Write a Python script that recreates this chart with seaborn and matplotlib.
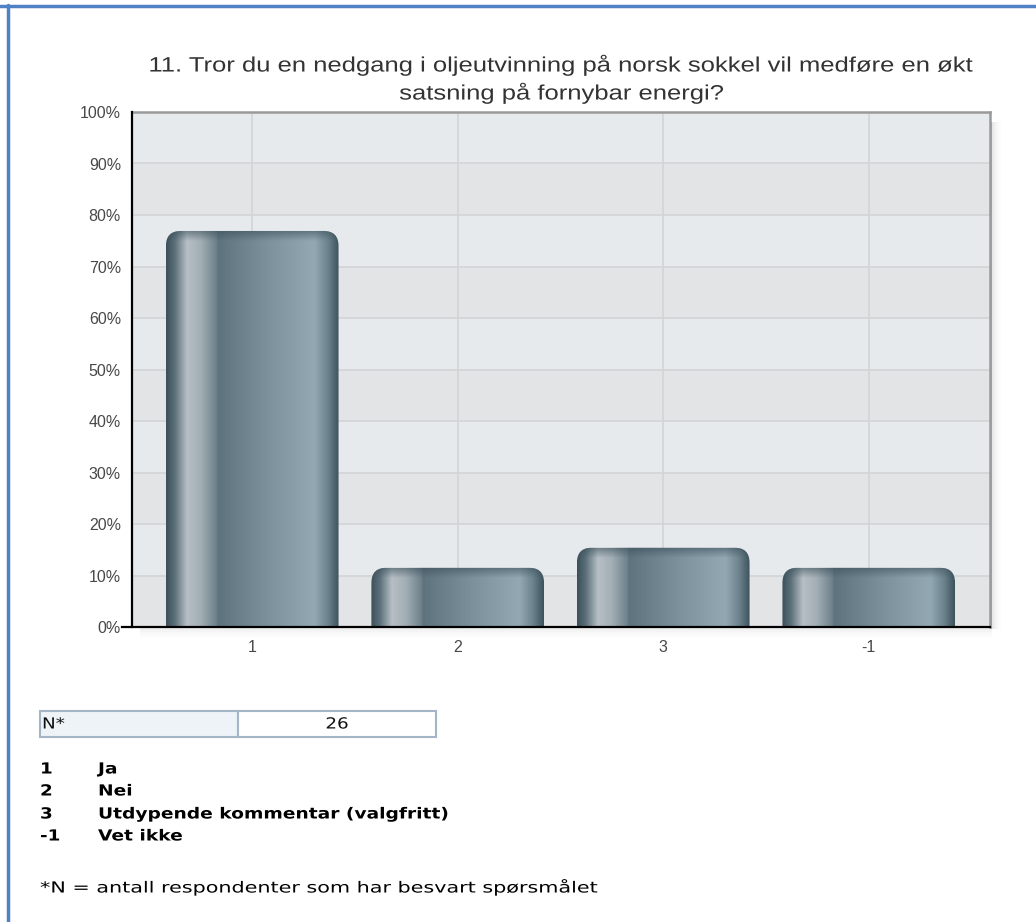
import numpy as np
import pandas as pd
import matplotlib
matplotlib.use("Agg")
import matplotlib.pyplot as plt
import seaborn as sns
from matplotlib.patches import FancyBboxPatch, Rectangle
from matplotlib.lines import Line2D
from matplotlib.colors import LinearSegmentedColormap
from matplotlib.patheffects import AbstractPathEffect
from matplotlib.transforms import Affine2D

# ---- data ----
categories = ["1", "2", "3", "-1"]
percentages = [76.9, 11.5, 15.4, 11.5]
yticks = [0, 10, 20, 30, 40, 50, 60, 70, 80, 90, 100]
ytick_labels = [f"{v}%" for v in yticks]
title_line1 = "11. Tror du en nedgang i oljeutvinning på norsk sokkel vil medføre en økt"
title_line2 = "satsning på fornybar energi?"
n_label = "N*"
n_value = "26"
legend_codes = ["1", "2", "3", "-1"]
legend_texts = ["Ja", "Nei", "Utdypende kommentar (valgfritt)", "Vet ikke"]
footnote = "*N = antall respondenter som har besvart spørsmålet"

W, H = 1036, 922
sns.set_theme(style="white")
plt.rcParams["font.family"] = ["Liberation Sans", "DejaVu Sans"]

fig = plt.figure(figsize=(W / 100, H / 100), dpi=100)
fig.patch.set_facecolor("white")


def fx(px):
    return px / W


def fy(py):
    return 1 - py / H


class XStretch(AbstractPathEffect):
    """Widen text horizontally about an anchor x (display pixels)."""
    def __init__(self, sx, x0):
        super().__init__()
        self.sx = sx
        self.x0 = x0

    def draw_path(self, renderer, gc, tpath, affine, rgbFace=None):
        t = affine + Affine2D().translate(-self.x0, 0).scale(self.sx, 1).translate(self.x0, 0)
        renderer.draw_path(gc, tpath, t, rgbFace)


ax_l, ax_r, ax_t, ax_b = 132, 990, 112, 627
ax = fig.add_axes([fx(ax_l), fy(ax_b), fx(ax_r - ax_l), (ax_b - ax_t) / H])

df = pd.DataFrame({"cat": categories, "pct": percentages})
sns.barplot(data=df, x="cat", y="pct", order=categories, color="#6f8794",
            width=0.84, ax=ax, zorder=3)
bar_patches = list(ax.containers[0])

xlim = (-0.585, 3.59)
ax.set_xlim(*xlim)
ax.set_ylim(0, 100)

# alternating background bands
ax.set_facecolor("#e6e9ec")
for i in range(10):
    col = "#e3e4e6" if (i % 2 == 0) else "#e7eaed"
    ax.axhspan(i * 10, (i + 1) * 10, color=col, zorder=0, lw=0)
for y in yticks[1:-1]:
    ax.axhline(y, color="#d2d4d6", lw=1.2, zorder=1)
for i in range(len(categories)):
    ax.axvline(i, color="#d2d4d6", lw=1.2, zorder=1)

# gradient bars with rounded tops
stops = [(0.0, "#3b505a"), (0.05, "#5c707a"), (0.12, "#b6bfc5"), (0.2, "#a3aeb5"),
         (0.29, "#6e828c"), (0.30, "#5e737e"), (0.6, "#7d929d"), (0.86, "#93a8b3"),
         (0.94, "#6b828d"), (1.0, "#3d535d")]
cmap = LinearSegmentedColormap.from_list("bar", stops)
grad = np.linspace(0, 1, 256).reshape(1, -1)
top_cmap = LinearSegmentedColormap.from_list(
    "top", [(0, (0.23, 0.31, 0.35, 0.0)), (1, (0.23, 0.31, 0.35, 0.55))])
vgrad = np.linspace(0, 1, 64).reshape(-1, 1)

ax_w_px = ax_r - ax_l
ax_h_px = ax_b - ax_t
px_per_x = ax_w_px / (xlim[1] - xlim[0])
px_per_y = ax_h_px / 100.0
r_px = 15
r_x = r_px / px_per_x
aspect = (r_px / px_per_y) / r_x

for p in bar_patches:
    x0, w, h = p.get_x(), p.get_width(), p.get_height()
    if h <= 0:
        continue
    p.set_visible(False)
    clip = FancyBboxPatch((x0, -8), w, h + 8,
                          boxstyle=f"round,pad=0,rounding_size={r_x}",
                          mutation_aspect=aspect, transform=ax.transData,
                          facecolor="none", edgecolor="none")
    ax.add_patch(clip)
    im = ax.imshow(grad, cmap=cmap, extent=[x0, x0 + w, 0, h], aspect="auto",
                   zorder=3, interpolation="bilinear")
    im.set_clip_path(clip)
    top_h = 10 / px_per_y
    im2 = ax.imshow(vgrad, cmap=top_cmap, extent=[x0, x0 + w, h - top_h, h],
                    aspect="auto", zorder=4, origin="lower", interpolation="bilinear")
    im2.set_clip_path(clip)

ax.set_xlim(*xlim)
ax.set_ylim(0, 100)

ax.set_yticks(yticks)
ax.set_yticklabels(ytick_labels)
ax.set_xlabel("")
ax.set_ylabel("")
ax.tick_params(axis="both", which="both", direction="out", length=5, width=1.5,
               colors="black", labelcolor="#484848", labelsize=11.5)
ax.tick_params(axis="x", pad=4)
ax.tick_params(axis="y", pad=3)
for s in ["left", "bottom"]:
    ax.spines[s].set_color("black")
    ax.spines[s].set_linewidth(1.6)
    ax.spines[s].set_zorder(6)
for s in ["top", "right"]:
    ax.spines[s].set_color("#9a9a9a")
    ax.spines[s].set_linewidth(1.8)
ax.spines["bottom"].set_bounds(xlim[0] - 0.05, xlim[1])

# subtle shadow right and below plot area
for k, a in enumerate([0.10, 0.07, 0.045, 0.025, 0.012]):
    fig.add_artist(Rectangle((fx(ax_r + 1 + k * 2), fy(ax_b + 2)), fx(2), (ax_b - ax_t - 8) / H,
                             transform=fig.transFigure, facecolor="black", alpha=a, lw=0))
    fig.add_artist(Rectangle((fx(ax_l + 8), fy(ax_b + 3 + k * 2)), fx(ax_r - ax_l - 6), 2 / H,
                             transform=fig.transFigure, facecolor="black", alpha=a * 0.6, lw=0))

# title (two centred lines, widened like the original rendering)
tcx = 562
fig.text(fx(tcx), fy(65), title_line1, ha="center", va="center", fontsize=15,
         color="#333333", path_effects=[XStretch(1.23, tcx)])
fig.text(fx(tcx), fy(93), title_line2, ha="center", va="center", fontsize=15,
         color="#333333", path_effects=[XStretch(1.23, tcx)])

# N* table
bfont = ["DejaVu Sans"]
tbl_t, tbl_b = 711, 737
fig.add_artist(Rectangle((fx(40), fy(tbl_b)), fx(198), (tbl_b - tbl_t) / H,
                         transform=fig.transFigure, facecolor="#eef3f7",
                         edgecolor="#a3b5c6", lw=1.5))
fig.add_artist(Rectangle((fx(238), fy(tbl_b)), fx(198), (tbl_b - tbl_t) / H,
                         transform=fig.transFigure, facecolor="white",
                         edgecolor="#a3b5c6", lw=1.5))
fig.text(fx(42), fy(724), n_label, ha="left", va="center", fontsize=11,
         family=bfont, color="#111111", path_effects=[XStretch(1.2, 42)])
fig.text(fx(337), fy(724), n_value, ha="center", va="center", fontsize=11,
         family=bfont, color="#111111", path_effects=[XStretch(1.2, 337)])

# legend of codes
ys = [769, 791, 814, 836]
for code, txt, y in zip(legend_codes, legend_texts, ys):
    fig.text(fx(40), fy(y), code, ha="left", va="center", fontsize=11,
             family=bfont, weight="bold", color="black", path_effects=[XStretch(1.2, 40)])
    fig.text(fx(98), fy(y), txt, ha="left", va="center", fontsize=11,
             family=bfont, weight="bold", color="black", path_effects=[XStretch(1.22, 98)])

fig.text(fx(40), fy(887), footnote, ha="left", va="center", fontsize=11,
         family=bfont, color="black", path_effects=[XStretch(1.355, 40)])

# outer border lines (top and left)
fig.add_artist(Line2D([0, 1], [fy(6), fy(6)], transform=fig.transFigure,
                      color="#4f81c4", lw=2.5))
fig.add_artist(Line2D([fx(8), fx(8)], [0, fy(5)], transform=fig.transFigure,
                      color="#4f81c4", lw=2.5))

fig.savefig("out.png", dpi=100, facecolor="white")
